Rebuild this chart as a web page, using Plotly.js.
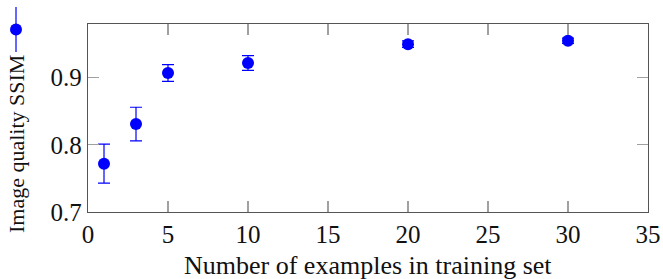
<!DOCTYPE html>
<html>
<head>
<meta charset="utf-8">
<script src="https://cdn.plot.ly/plotly-3.0.1.min.js"></script>
<style>html,body{margin:0;padding:0;background:#fff;}#chart{width:663px;height:279px;}</style>
</head>
<body>
<div id="chart"></div>
<script>
// Data
const examples = [1, 3, 5, 10, 20, 30];
const ssim = [0.772, 0.831, 0.907, 0.922, 0.950, 0.955];
const ssimErr = [0.029, 0.025, 0.0125, 0.011, 0.005, 0.004];
const xTitle = 'Number of examples in training set';
const yTitle = 'Image quality SSIM';

const W = 663, H = 279;
const margin = {l: 88, r: 15, t: 24, b: 67};
const pw = W - margin.l - margin.r, ph = H - margin.t - margin.b;
const px = x => (x - margin.l) / pw;
const py = y => (H - margin.b - y) / ph;
const SERIF = '"Liberation Serif", "DejaVu Serif", serif';

const trace = {
  x: examples, y: ssim, type: 'scatter', mode: 'markers',
  marker: {color: '#0000ff', size: 12},
  error_y: {type: 'data', array: ssimErr, visible: true, color: '#0000ff', thickness: 1.2, width: 6},
  showlegend: false, hoverinfo: 'skip'
};

const axisCommon = {
  showgrid: false, zeroline: false, showline: true, linecolor: '#555', linewidth: 1.3,
  mirror: 'ticks', ticks: 'inside', ticklen: 11, tickcolor: '#a0a0a0', tickwidth: 1.2,
  tickfont: {family: SERIF, size: 25, color: '#111'}, automargin: false
};

const layout = {
  width: W, height: H, margin: margin,
  font: {family: SERIF, color: '#111'},
  paper_bgcolor: '#fff', plot_bgcolor: '#fff',
  xaxis: Object.assign({}, axisCommon, {range: [0, 35], tick0: 0, dtick: 5}),
  yaxis: Object.assign({}, axisCommon, {range: [0.7, 0.98], tick0: 0.7, dtick: 0.1, tickformat: '.1f'}),
  annotations: [
    {text: xTitle, xref: 'paper', yref: 'paper', x: px(368), y: py(265),
     xanchor: 'center', yanchor: 'middle', showarrow: false, borderpad: 0,
     font: {family: SERIF, size: 26, color: '#111'}},
    {text: yTitle, xref: 'paper', yref: 'paper', x: px(16), y: py(144),
     xanchor: 'center', yanchor: 'middle', textangle: -90, showarrow: false,
     font: {family: SERIF, size: 22, color: '#111'}}
  ],
  shapes: [
    {type: 'line', xref: 'paper', yref: 'paper', x0: px(16), x1: px(16), y0: py(7), y1: py(52),
     line: {color: '#0000ff', width: 1.2}},
    {type: 'circle', xref: 'paper', yref: 'paper', x0: px(10), x1: px(22), y0: py(23.5), y1: py(35.5),
     fillcolor: '#0000ff', line: {color: '#0000ff', width: 0}}
  ]
};

Plotly.newPlot('chart', [trace], layout, {displayModeBar: false, staticPlot: true});
</script>
</body>
</html>
